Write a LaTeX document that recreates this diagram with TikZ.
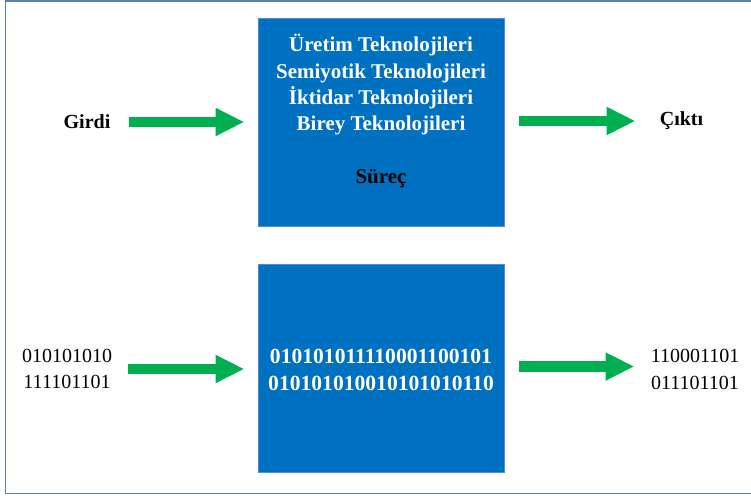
\documentclass[tikz,border=0pt]{standalone}
\usepackage{fontspec}
\setmainfont{Liberation Serif}
\usetikzlibrary{arrows.meta}
\definecolor{boxblue}{HTML}{0070C0}
\definecolor{boxedge}{HTML}{4A8FD4}
\definecolor{flowgreen}{HTML}{00B050}
\definecolor{framecol}{HTML}{5A80B0}
\begin{document}
\begin{tikzpicture}[x=1pt,y=-1pt,
  procbox/.style={fill=boxblue,draw=boxedge,line width=0.8pt,
    minimum width=246pt,minimum height=208pt,inner sep=0pt},
  txt/.style={font=\fontsize{20}{26.5}\selectfont,align=center,inner sep=0pt},
  boldtxt/.style={font=\fontsize{20}{26.5}\selectfont\bfseries,align=center,inner sep=0pt},
  boxtxt/.style={font=\fontsize{21}{26.3}\selectfont\bfseries,align=center,inner sep=0pt,text=white},
  flow/.style={draw=flowgreen,line width=10.5pt,
    -{Triangle[length=28pt,width=28.5pt,line width=0pt]}}]
\useasboundingbox (0,0) rectangle (751,495);
% outer frame
\draw[framecol,line width=1.4pt] (5.7,1) rectangle (770,493.7);

% process boxes
\node[procbox] (procA) at (381,122.5) {};
\node[procbox] (procB) at (381,368.3) {};

\node[boxtxt] (procAtext) at (381,111)
  {Üretim Teknolojileri\\Semiyotik Teknolojileri\\İktidar Teknolojileri\\Birey Teknolojileri\\[26.3pt]\textcolor{black}{Süreç}};
\node[boxtxt,font=\fontsize{21.6}{27}\selectfont\bfseries] (procBtext) at (381,369.5)
  {010101011110001100101\\010101010010101010110};

% inputs and outputs
\node[boldtxt] (inp) at (87,122) {Girdi};
\node[boldtxt] (out) at (681.5,121) {Çıktı};
\node[txt] (binin) at (67,369) {010101010\\111101101};
\node[txt] (binout) at (695,369.5) {110001101\\011101101};

% flow arrows
\draw[flow,shorten <=18pt,shorten >=14pt] (inp.east) -- (inp.east -| procA.west);
\draw[flow,shorten <=15pt,shorten >=25pt] (procA.east |- out.west) -- (out.west);
\draw[flow,shorten <=16pt,shorten >=14pt] (binin.east) -- (binin.east -| procB.west);
\draw[flow,shorten <=15pt,shorten >=17pt] ([yshift=3pt]procB.east |- binout.west) -- ([yshift=3pt]binout.west);
\end{tikzpicture}
\end{document}
